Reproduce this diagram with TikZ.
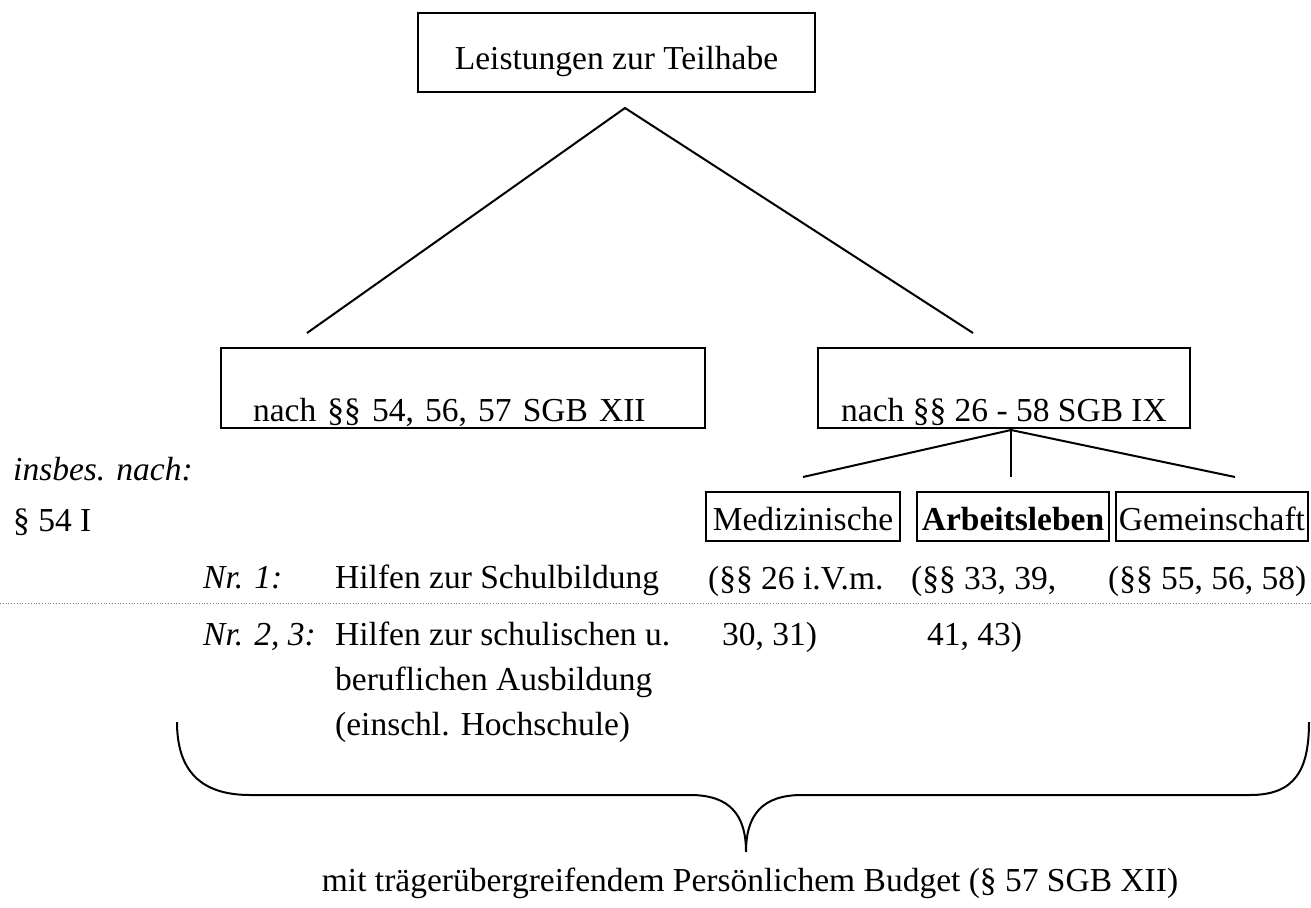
\documentclass[tikz,border=0pt]{standalone}
\usepackage{fontspec}
\setmainfont{Liberation Serif}
\usepackage{tikz}
\usetikzlibrary{positioning}

\begin{document}
\begin{tikzpicture}[x=1pt, y=-1pt,
    every node/.style={font=\fontsize{33.5}{40}\selectfont, inner sep=0pt},
    box/.style={draw, line width=2.2pt},
    smallbox/.style={draw, line width=2.2pt, inner xsep=3pt, minimum height=49pt, text height=27pt, text depth=0pt},
    leg/.style={line width=2pt},
    brace/.style={line width=2pt}]
    \useasboundingbox (0,0) rectangle (1311,907);

    \node[box, minimum width=397pt, minimum height=79pt, text height=40pt, text depth=5pt] (top) at (616.5,52.5) {Leistungen zur Teilhabe};
    \node[box, minimum height=80pt, text width=420pt, inner xsep=32pt, align=left, text height=70pt, text depth=4pt] (sgbxii) at (463,388) {nach §§ 54, 56, 57 SGB XII};
    \node[box, minimum width=372pt, minimum height=80pt, text height=70pt, text depth=4pt] (sgbix) at (1004,388) {nach §§ 26 - 58 SGB IX};

    \coordinate (apex) at (625,108);
    \coordinate (lend) at (307,333);
    \coordinate (rend) at (973,333);
    \draw[leg] (lend) -- (apex) -- (rend);

    \node[smallbox, minimum width=194pt] (med) at (803,516.5) {Medizinische};
    \node[smallbox, minimum width=192pt] (arb) at (1013,516.5) {\bfseries Arbeitsleben};
    \node[smallbox, minimum width=187pt] (gem) at (1212,516.5) {Gemeinschaft};

    \coordinate (fork) at (1011,430);
    \coordinate (medend) at (803,477);
    \coordinate (arbend) at (1011,477);
    \coordinate (gemend) at (1235,477);
    \draw[leg] (fork) -- (medend);
    \draw[leg] (fork) -- (arbend);
    \draw[leg] (fork) -- (gemend);

    \node[anchor=base west] (insbes) at (13,480) {\itshape insbes. nach:};
    \node[anchor=base west] (par54) at (13,531) {§ 54 I};
    \node[anchor=base west] (nr1) at (203,588) {\itshape Nr. 1:};
    \node[anchor=base west] (schul) at (335,588) {Hilfen zur Schulbildung};
    \node[anchor=base west] (nr23) at (203,645) {\itshape Nr. 2, 3:};
    \node[anchor=base west] (ausb1) at (335,645) {Hilfen zur schulischen u.};
    \node[anchor=base west] (ausb2) at (335,690) {beruflichen Ausbildung};
    \node[anchor=base west] (ausb3) at (335,735) {(einschl. Hochschule)};

    \node[anchor=base west] (medpar1) at (708,589) {(§§ 26 i.V.m.};
    \node[anchor=base west] (arbpar1) at (911,589) {(§§ 33, 39,};
    \node[anchor=base west] (gempar) at (1108,589) {(§§ 55, 56, 58)};
    \node[anchor=base west] (medpar2) at (722,645) {30, 31)};
    \node[anchor=base west] (arbpar2) at (927,645) {41, 43)};

    \draw[gray, line width=0.8pt, dotted] (0,603) -- (1311,603);

    \draw[brace] (177,722) .. controls (177,770) and (200,795) .. (250,795) -- (690,795)
        .. controls (730,795) and (746,815) .. (746,852)
        .. controls (746,815) and (762,795) .. (802,795) -- (1250,795)
        .. controls (1295,795) and (1309,770) .. (1309,722);

    \node[anchor=base] (budget) at (750,891) {mit trägerübergreifendem Persönlichem Budget (§ 57 SGB XII)};
\end{tikzpicture}
\end{document}
